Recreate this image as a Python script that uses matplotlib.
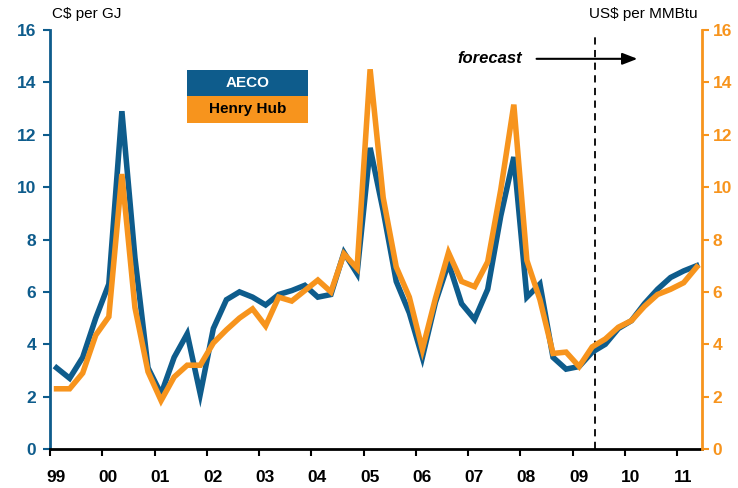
import numpy as np
import matplotlib
matplotlib.use('Agg')
import matplotlib.pyplot as plt
from matplotlib.patches import Rectangle
from matplotlib import transforms

plt.rcParams['font.family'] = ['Liberation Sans', 'DejaVu Sans']

blue = '#0E5C8C'
orange = '#F7941D'

# quarterly prices, 1999 Q1 .. 2011 Q2
aeco = [3.1, 2.7, 3.5, 5.0, 6.3, 12.9, 7.3, 3.1, 2.1, 3.5,
        4.4, 2.1, 4.6, 5.7, 6.0, 5.8, 5.5, 5.9, 6.05, 6.25,
        5.8, 5.9, 7.5, 6.7, 11.5, 9.1, 6.4, 5.2, 3.5, 5.6,
        7.1, 5.55, 4.95, 6.1, 8.9, 11.15, 5.8, 6.3, 3.5, 3.05,
        3.15, 3.7, 4.0, 4.6, 4.9, 5.55, 6.1, 6.55, 6.8, 7.0]
henry = [2.3, 2.3, 2.9, 4.35, 5.05, 10.5, 5.4, 2.95, 1.85, 2.75,
         3.2, 3.2, 4.05, 4.55, 5.0, 5.35, 4.7, 5.8, 5.65, 6.05,
         6.45, 6.0, 7.45, 6.9, 14.5, 9.6, 6.95, 5.8, 3.8, 5.75,
         7.5, 6.4, 6.2, 7.15, 9.9, 13.15, 7.2, 5.7, 3.65, 3.7,
         3.15, 3.9, 4.2, 4.65, 4.9, 5.45, 5.9, 6.1, 6.35, 6.95]
year_labels = ['99', '00', '01', '02', '03', '04', '05', '06', '07', '08', '09', '10', '11']
start_year = 1999
forecast_start = 2009.42

t = start_year + (np.arange(len(aeco)) + 0.5) / 4.0

fig = plt.figure(figsize=(7.38, 4.88), dpi=100)
ax = fig.add_axes([0.0678, 0.0799, 0.883, 0.8586])
ax2 = ax.twinx()

ax.plot(t, aeco, color=blue, lw=4, solid_joinstyle='miter', zorder=3)
ax.plot(t, henry, color=orange, lw=4, solid_joinstyle='miter', zorder=4)

ax.set_xlim(start_year, start_year + 12.47)
ax.set_ylim(0, 16)
ax2.set_ylim(0, 16)
ax.set_yticks(np.arange(0, 17, 2))
ax2.set_yticks(np.arange(0, 17, 2))
ax.set_xticks(start_year + np.arange(len(year_labels)))
ax.set_xticklabels(year_labels)

for s in ['top', 'right']:
    ax.spines[s].set_visible(False)
for s in ['top', 'left', 'bottom']:
    ax2.spines[s].set_visible(False)
ax.spines['left'].set_color(blue)
ax.spines['left'].set_linewidth(2)
ax.spines['bottom'].set_color('black')
ax.spines['bottom'].set_linewidth(2)
ax2.spines['right'].set_color(orange)
ax2.spines['right'].set_linewidth(2)

ax.tick_params(axis='y', colors=blue, labelsize=12.5, width=1.5, length=5, pad=5)
ax2.tick_params(axis='y', colors=orange, labelsize=12.5, width=1.5, length=5, pad=3)
ax.tick_params(axis='x', colors='black', labelsize=12.5, width=1.5, length=5, pad=10)
for lab in ax.get_yticklabels() + ax2.get_yticklabels() + ax.get_xticklabels():
    lab.set_fontweight('bold')
offset = transforms.ScaledTranslation(6 / 100, 0, fig.dpi_scale_trans)
for lab in ax.get_xticklabels():
    lab.set_transform(lab.get_transform() + offset)

fig.text(0.0705, 0.972, 'C$ per GJ', fontsize=11, ha='left', va='center')
fig.text(0.945, 0.972, 'US$ per MMBtu', fontsize=11, ha='right', va='center')

# forecast marker
ax.axvline(forecast_start, ymin=0, ymax=0.99, color='black', lw=1.3, ls=(0, (4, 3)), zorder=2)
ax.text(2008.03, 14.9, 'forecast', fontsize=12, fontweight='bold', style='italic',
        ha='right', va='center')
ax.annotate('', xy=(2010.24, 14.9), xytext=(2008.31, 14.9),
            arrowprops=dict(arrowstyle='-|>,head_length=0.9,head_width=0.35',
                            color='black', lw=1.5, shrinkA=0, shrinkB=0))

# legend boxes
fig.patches.append(Rectangle((0.2534, 0.8033), 0.164, 0.0533, transform=fig.transFigure,
                             facecolor=blue, edgecolor='none'))
fig.patches.append(Rectangle((0.2534, 0.748), 0.164, 0.0553, transform=fig.transFigure,
                             facecolor=orange, edgecolor='none'))
fig.text(0.3354, 0.8299, 'AECO', color='white', fontsize=11, fontweight='bold',
         ha='center', va='center')
fig.text(0.3354, 0.7757, 'Henry Hub', color='black', fontsize=11, fontweight='bold',
         ha='center', va='center')

fig.savefig('out.png', dpi=100)
